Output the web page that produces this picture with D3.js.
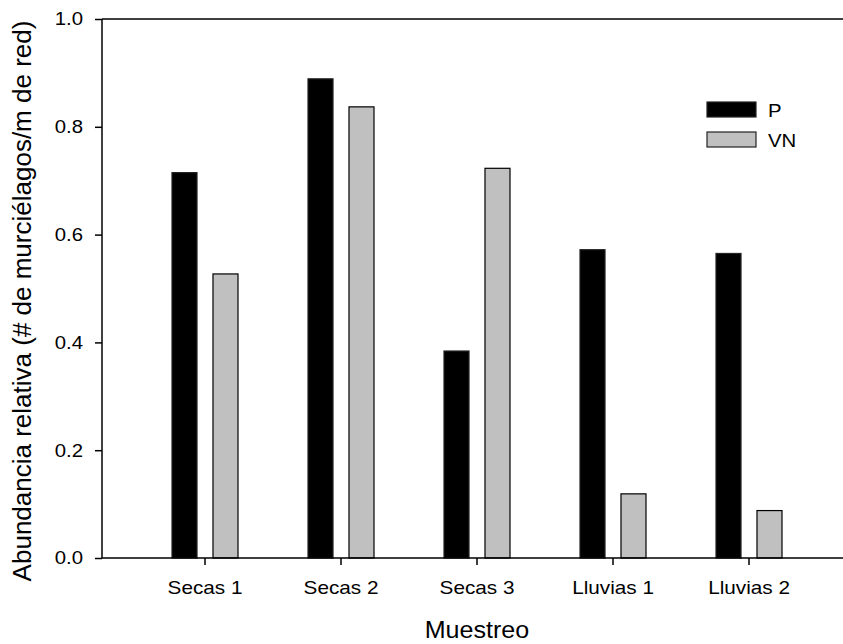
<!DOCTYPE html>
<html>
<head>
<meta charset="utf-8">
<script src="https://cdn.jsdelivr.net/npm/d3@7"></script>
<style>
  html, body { margin: 0; padding: 0; background: #fff; }
  svg { display: block; font-family: 'Liberation Sans', Arial, sans-serif; }
</style>
</head>
<body>
<svg id="chart" width="843" height="644"></svg>
<script>
const categories = ["Secas 1", "Secas 2", "Secas 3", "Lluvias 1", "Lluvias 2"];
const seriesNames = ["P", "VN"];
const valuesP  = [0.715, 0.889, 0.384, 0.572, 0.565];
const valuesVN = [0.527, 0.837, 0.723, 0.119, 0.088];
const yTicks = [0.0, 0.2, 0.4, 0.6, 0.8, 1.0];
const colors = { P: "#000000", VN: "#c0c0c0" };

(function () {
const svg = d3.select("#chart");
const mLeft = 102, mRight = 843, mTop = 19, mBottom = 558;
const FONT = "'Liberation Sans', Arial, sans-serif";

function widen(sel, f) {
  sel.each(function () {
    const w = this.getComputedTextLength();
    d3.select(this).attr("textLength", w * f).attr("lengthAdjust", "spacingAndGlyphs");
  });
}

const x = d3.scaleBand().domain(categories).range([137, 817]).paddingInner(0).paddingOuter(0);
const xSub = d3.scaleBand().domain(seriesNames).range([-33, 33]).paddingInner(0.39).paddingOuter(0);
const y = d3.scaleLinear().domain([0, 1]).range([mBottom, mTop]);

const data = categories.map((c, i) => ({ cat: c, P: valuesP[i], VN: valuesVN[i] }));

// bars
const g = svg.append("g");
data.forEach(d => {
  seriesNames.forEach(s => {
    const cx = x(d.cat) + x.bandwidth() / 2;
    g.append("rect")
      .attr("x", cx + xSub(s))
      .attr("y", y(d[s]))
      .attr("width", xSub.bandwidth())
      .attr("height", y(0) - y(d[s]))
      .attr("fill", colors[s])
      .attr("stroke", s === "P" ? "#222" : "#000")
      .attr("stroke-width", 1.2);
  });
});

// frame line (top)
svg.append("line").attr("x1", mLeft).attr("x2", mRight).attr("y1", mTop).attr("y2", mTop)
  .attr("stroke", "#000").attr("stroke-width", 1.5);

// y axis
const yAxis = d3.axisLeft(y).tickValues(yTicks).tickFormat(d3.format(".1f")).tickSize(7).tickPadding(12);
const ya = svg.append("g").attr("transform", `translate(${mLeft},0)`).call(yAxis);
ya.attr("font-family", FONT);
ya.selectAll("text").attr("font-size", 18.5).attr("fill", "#000").call(widen, 1.1);
ya.selectAll("line, path").attr("stroke", "#000").attr("stroke-width", 1.5);
ya.select(".domain").attr("d", `M0,${mTop}V${mBottom}`);

// x axis
const xAxis = d3.axisBottom(x).tickSize(7).tickPadding(16);
const xa = svg.append("g").attr("transform", `translate(0,${mBottom})`).call(xAxis);
xa.attr("font-family", FONT);
xa.selectAll("text").attr("font-size", 18.5).attr("fill", "#000").call(widen, 1.12);
xa.selectAll("line, path").attr("stroke", "#000").attr("stroke-width", 1.5);
xa.select(".domain").attr("d", `M${mLeft},0H${mRight}`);

// axis titles
svg.append("text").attr("x", 477).attr("y", 638).attr("text-anchor", "middle")
  .attr("font-size", 23).attr("fill", "#000").attr("font-family", FONT).text("Muestreo")
  .call(widen, 1.09);
svg.append("text").attr("transform", `translate(31,301) rotate(-90)`)
  .attr("text-anchor", "middle").attr("font-size", 26).attr("fill", "#000").attr("font-family", FONT)
  .text("Abundancia relativa (# de murciélagos/m de red)");

// legend
const legend = svg.append("g");
seriesNames.forEach((s, i) => {
  const ly = 102 + i * 30;
  legend.append("rect").attr("x", 707).attr("y", ly).attr("width", 49).attr("height", 15)
    .attr("fill", colors[s]).attr("stroke", "#222").attr("stroke-width", 1.2);
  legend.append("text").attr("x", 768).attr("y", ly + 14.5).attr("font-size", 18.5)
    .attr("fill", "#000").attr("font-family", FONT).text(s).call(widen, 1.1);
});
})();
</script>
</body>
</html>
